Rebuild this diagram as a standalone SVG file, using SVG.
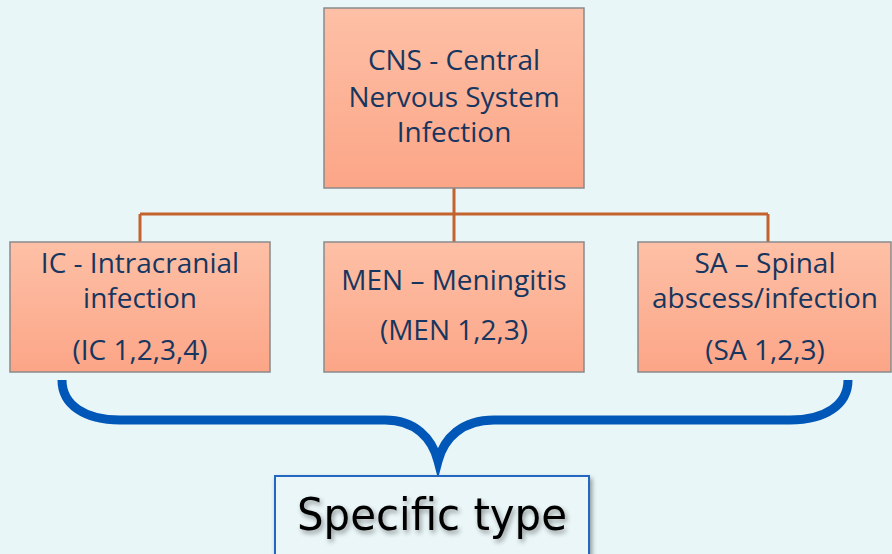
<svg xmlns="http://www.w3.org/2000/svg" width="892" height="554" viewBox="0 0 892 554">
<defs>
<linearGradient id="g" x1="0" y1="0" x2="0" y2="1">
<stop offset="0" stop-color="#fdc0a6"/>
<stop offset="1" stop-color="#fca587"/>
</linearGradient>
<filter id="sh" x="-10%" y="-10%" width="130%" height="140%">
<feGaussianBlur in="SourceAlpha" stdDeviation="2.5"/>
<feOffset dx="2" dy="3" result="b"/>
<feComponentTransfer><feFuncA type="linear" slope="0.4"/></feComponentTransfer>
<feMerge><feMergeNode/><feMergeNode in="SourceGraphic"/></feMerge>
</filter>
</defs>
<style>
.box{fill:url(#g);stroke:#8a8a8a;stroke-width:1.5}
.t{font-family:"Open Sans","Lato",sans-serif;font-size:28px;fill:#17365f;text-anchor:middle}
.con{stroke:#c4622d;stroke-width:3;fill:none}
</style>
<rect width="892" height="554" fill="#e9f6f8"/>
<g id="connectors">
<path class="con" d="M454 188V242M140 214H768M140 214V242M768 214V242"/>
</g>
<g id="cns">
<rect class="box" x="324" y="8" width="260" height="180"/>
<text class="t" x="454" y="70">CNS - Central</text>
<text class="t" x="454" y="107">Nervous System</text>
<text class="t" x="454" y="142">Infection</text>
</g>
<g id="ic">
<rect class="box" x="10" y="242" width="260" height="130"/>
<text class="t" x="140" y="273">IC - Intracranial</text>
<text class="t" x="140" y="308">infection</text>
<text class="t" x="140" y="360">(IC 1,2,3,4)</text>
</g>
<g id="men">
<rect class="box" x="324" y="242" width="260" height="130"/>
<text class="t" x="454" y="290">MEN – Meningitis</text>
<text class="t" x="454" y="340">(MEN 1,2,3)</text>
</g>
<g id="sa">
<rect class="box" x="638" y="242" width="253" height="130"/>
<text class="t" x="765" y="273">SA – Spinal</text>
<text class="t" x="765" y="308" textLength="226" lengthAdjust="spacingAndGlyphs">abscess/infection</text>
<text class="t" x="765" y="360">(SA 1,2,3)</text>
</g>
<g id="brace">
<path d="M62 380C62 405 85 420 120 420H385C415 420 432 438 438 461C444 438 462 420 494 420H790C825 420 848 405 848 380" fill="none" stroke="#0057b8" stroke-width="9"/>
</g>
<g id="specific">
<rect x="275" y="476" width="314" height="82" fill="#eaf6f8" stroke="#2468c0" stroke-width="2" filter="url(#sh)"/>
<text x="432" y="530" font-family="'DejaVu Sans Condensed','Liberation Sans',sans-serif" font-size="44" fill="#000" text-anchor="middle" filter="url(#sh)" textLength="270" lengthAdjust="spacingAndGlyphs">Specific type</text>
</g>
</svg>
